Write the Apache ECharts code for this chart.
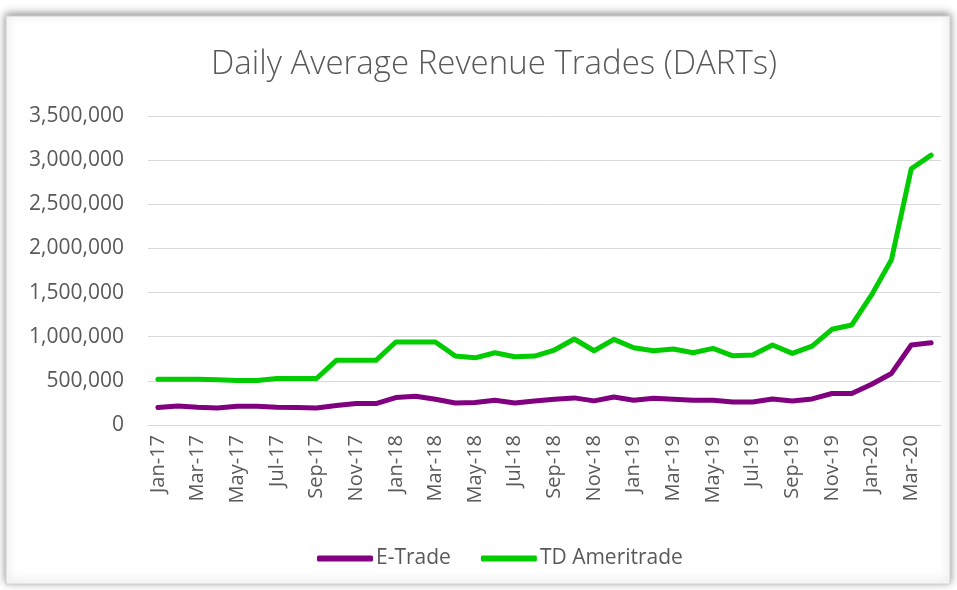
<!DOCTYPE html>
<html><head><meta charset="utf-8">
<script src="https://cdn.jsdelivr.net/npm/echarts@6/dist/echarts.min.js"></script>
<style>html,body{margin:0;padding:0;background:#fff}#c{width:957px;height:590px}</style>
</head><body><div id="c"></div>
<script>
const months = ['Jan-17','Feb-17','Mar-17','Apr-17','May-17','Jun-17','Jul-17','Aug-17','Sep-17','Oct-17','Nov-17','Dec-17',
'Jan-18','Feb-18','Mar-18','Apr-18','May-18','Jun-18','Jul-18','Aug-18','Sep-18','Oct-18','Nov-18','Dec-18',
'Jan-19','Feb-19','Mar-19','Apr-19','May-19','Jun-19','Jul-19','Aug-19','Sep-19','Oct-19','Nov-19','Dec-19',
'Jan-20','Feb-20','Mar-20','Apr-20'];
const eTrade = [198000,216000,200000,193000,212000,212000,201000,198000,193000,220000,243000,243000,
311000,326000,292000,250000,254000,281000,250000,273000,292000,307000,273000,318000,
281000,303000,292000,281000,281000,261000,261000,295000,273000,295000,357000,357000,
462000,584000,906000,932000];
const tdAmeritrade = [518000,518000,518000,512000,505000,505000,527000,527000,527000,732000,732000,732000,
940000,940000,940000,781000,761000,818000,773000,781000,849000,974000,841000,970000,
875000,841000,860000,818000,868000,784000,792000,906000,811000,894000,1084000,1133000,
1474000,1872000,2902000,3057000];
const seriesNames = ['E-Trade','TD Ameritrade'];
const titleText = 'Daily Average Revenue Trades (DARTs)';

const chart = echarts.init(document.getElementById('c'));
const font = 'Open Sans';
chart.setOption({
  backgroundColor: '#fff',
  animation: false,
  graphic: [{
    type: 'rect', z: -10,
    shape: {x: 6, y: 16, width: 944, height: 568},
    style: {fill: '#fff', stroke: '#d0d0d0', lineWidth: 1, shadowBlur: 8, shadowColor: 'rgba(0,0,0,0.45)', shadowOffsetX: 0, shadowOffsetY: -2}
  }],
  title: {
    text: titleText, left: 206, top: 43,
    textStyle: {fontFamily: font, fontWeight: 300, fontSize: 33, color: '#595959'}
  },
  legend: {
    top: 543, left: 312, itemWidth: 56, itemHeight: 6, itemGap: 30,
    icon: 'roundRect',
    textStyle: {fontFamily: font, fontSize: 21, color: '#595959', padding: [0, 0, 0, -2]},
    data: seriesNames
  },
  grid: {left: 148, right: 16, top: 116, bottom: 165},
  xAxis: {
    type: 'category', data: months, boundaryGap: true,
    axisLine: {lineStyle: {color: '#d9d9d9', width: 1}},
    axisTick: {interval: 1, length: 6, lineStyle: {color: '#d9d9d9'}},
    axisLabel: {interval: 1, rotate: 90, fontFamily: font, fontSize: 20, color: '#595959', margin: 10}
  },
  yAxis: {
    type: 'value', min: 0, max: 3500000, interval: 500000,
    axisLine: {show: false}, axisTick: {show: false},
    splitLine: {lineStyle: {color: '#d9d9d9', width: 1}},
    axisLabel: {fontFamily: font, fontSize: 21, color: '#595959', margin: 24,
      formatter: v => v.toString().replace(/\B(?=(\d{3})+(?!\d))/g, ',')}
  },
  series: [
    {name: seriesNames[0], type: 'line', data: eTrade, symbol: 'none', smooth: false,
     lineStyle: {color: '#800080', width: 5, cap: 'round', join: 'round'}, itemStyle: {color: '#800080'}},
    {name: seriesNames[1], type: 'line', data: tdAmeritrade, symbol: 'none', smooth: false,
     lineStyle: {color: '#00cc00', width: 5, cap: 'round', join: 'round'}, itemStyle: {color: '#00cc00'}}
  ]
});
</script></body></html>
